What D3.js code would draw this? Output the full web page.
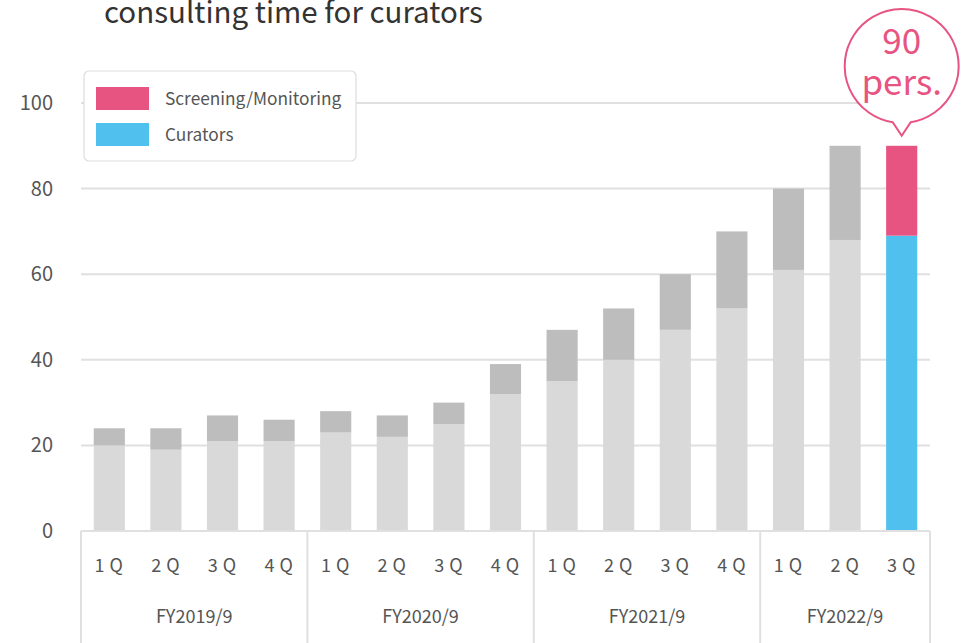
<!DOCTYPE html>
<html>
<head>
<meta charset="utf-8">
<script src="https://cdn.jsdelivr.net/npm/d3@7"></script>
<style>
  body { margin: 0; background: #fff; }
  svg { display: block; font-family: "Noto Sans CJK JP", "Noto Sans", sans-serif; }
</style>
</head>
<body>
<div id="container"></div>
<script>
// chart data
const quarters = ["1Q", "2Q", "3Q", "4Q", "1Q", "2Q", "3Q", "4Q", "1Q", "2Q", "3Q", "4Q", "1Q", "2Q", "3Q"];
const fiscalYears = ["FY2019/9", "FY2020/9", "FY2021/9", "FY2022/9"];
const quartersPerYear = [4, 4, 4, 3];
const curators = [20, 19, 21, 21, 23, 22, 25, 32, 35, 40, 47, 52, 61, 68, 69];
const totals = [24, 24, 27, 26, 28, 27, 30, 39, 47, 52, 60, 70, 80, 90, 90];
const yTicks = [0, 20, 40, 60, 80, 100];
const seriesNames = ["Screening/Monitoring", "Curators"];
const calloutLabel = ["90", "pers."];

const W = 974, H = 643;
const margin = { top: 103, right: 44, bottom: 112, left: 81 };
const width = W - margin.left - margin.right;
const height = H - margin.top - margin.bottom;

const svg = d3.select('#container').append('svg')
    .attr('width', W)
    .attr('height', H);

// title (top line cut off in the original)
svg.append('text')
    .attr('x', 104).attr('y', 23)
    .attr('font-size', 29.5)
    .attr('fill', '#333')
    .text('consulting time for curators');

const g = svg.append('g').attr('transform', `translate(${margin.left},${margin.top})`);

const idx = d3.range(quarters.length);
const x = d3.scaleBand().domain(idx).range([0, width]).paddingInner(0.45).paddingOuter(0.225);
const y = d3.scaleLinear().domain([0, 100]).range([height, 0]);

// grid lines
g.append('g')
    .selectAll('line')
    .data(yTicks)
    .join('line')
    .attr('x1', 0).attr('x2', width)
    .attr('y1', d => y(d)).attr('y2', d => y(d))
    .attr('stroke', '#e0e0e0')
    .attr('stroke-width', 2);

// y axis labels
g.append('g')
    .call(d3.axisLeft(y).tickValues(yTicks).tickSize(0).tickPadding(28))
    .call(a => a.select('.domain').remove())
    .selectAll('text')
    .attr('font-size', 20)
    .attr('font-family', '"Noto Sans CJK JP", "Noto Sans", sans-serif')
    .attr('fill', '#555');

const last = quarters.length - 1;

// bars: lower part (curators)
g.append('g')
    .selectAll('rect')
    .data(idx)
    .join('rect')
    .attr('x', i => x(i))
    .attr('width', x.bandwidth())
    .attr('y', i => y(curators[i]))
    .attr('height', i => y(0) - y(curators[i]))
    .attr('fill', i => i === last ? '#50c1ee' : '#d9d9d9');

// bars: upper part (screening/monitoring)
g.append('g')
    .selectAll('rect')
    .data(idx)
    .join('rect')
    .attr('x', i => x(i))
    .attr('width', x.bandwidth())
    .attr('y', i => y(totals[i]))
    .attr('height', i => y(curators[i]) - y(totals[i]))
    .attr('fill', i => i === last ? '#e85482' : '#bdbdbd');

// x axis base line
g.append('line')
    .attr('x1', 0).attr('x2', width)
    .attr('y1', height).attr('y2', height)
    .attr('stroke', '#e0e0e0').attr('stroke-width', 2);

// quarter labels
g.append('g')
    .selectAll('text')
    .data(idx)
    .join('text')
    .attr('x', i => x(i) + x.bandwidth() / 2 + 2)
    .attr('y', height + 41)
    .attr('text-anchor', 'middle')
    .attr('font-size', 18)
    .attr('letter-spacing', 5)
    .attr('fill', '#555')
    .text(i => quarters[i]);

// fiscal year groups
const step = x.step();
let start = 0;
const groups = quartersPerYear.map((n, k) => {
    const o = { name: fiscalYears[k], x0: start === 0 ? 0 : start * step, x1: start + n === quarters.length ? width : (start + n) * step };
    start += n;
    return o;
});
const sepX = [0].concat(groups.map(d => d.x1));
g.append('g')
    .selectAll('line')
    .data(sepX)
    .join('line')
    .attr('x1', d => d).attr('x2', d => d)
    .attr('y1', height).attr('y2', H - margin.top)
    .attr('stroke', '#e0e0e0').attr('stroke-width', 2);

g.append('g')
    .selectAll('text')
    .data(groups)
    .join('text')
    .attr('x', d => (d.x0 + d.x1) / 2)
    .attr('y', height + 92)
    .attr('text-anchor', 'middle')
    .attr('font-size', 18)
    .attr('fill', '#555')
    .text(d => d.name);

// legend
const legend = svg.append('g').attr('transform', 'translate(84,71)');
legend.append('rect')
    .attr('width', 272).attr('height', 90)
    .attr('rx', 5)
    .attr('fill', '#fff')
    .attr('stroke', '#ddd').attr('stroke-width', 1.2);
const legendColors = ['#e85482', '#50c1ee'];
seriesNames.forEach((name, k) => {
    legend.append('rect')
        .attr('x', 12).attr('y', 16 + k * 36)
        .attr('width', 53).attr('height', 23)
        .attr('fill', legendColors[k]);
    legend.append('text')
        .attr('x', 81).attr('y', 34 + k * 36)
        .attr('font-size', 17.3)
        .attr('fill', '#555')
        .text(name);
});

// callout bubble above the last bar
const cx = margin.left + x(last) + x.bandwidth() / 2;
const tipY = margin.top + y(totals[last]) - 10;
const r = 57, cy = 66;
const ang = Math.asin(9 / r);
const bx = r * Math.sin(ang), by = r * Math.cos(ang);
svg.append('path')
    .attr('d', `M${cx + bx},${cy + by} A${r},${r} 0 1 0 ${cx - bx},${cy + by} L${cx},${tipY} Z`)
    .attr('fill', '#fff')
    .attr('stroke', '#e85482')
    .attr('stroke-width', 2);
svg.append('g')
    .selectAll('text')
    .data(calloutLabel)
    .join('text')
    .attr('x', cx)
    .attr('y', (d, i) => 54 + i * 41)
    .attr('text-anchor', 'middle')
    .attr('font-size', 35)
    .attr('fill', '#e85482')
    .text(d => d);
</script>
</body>
</html>
